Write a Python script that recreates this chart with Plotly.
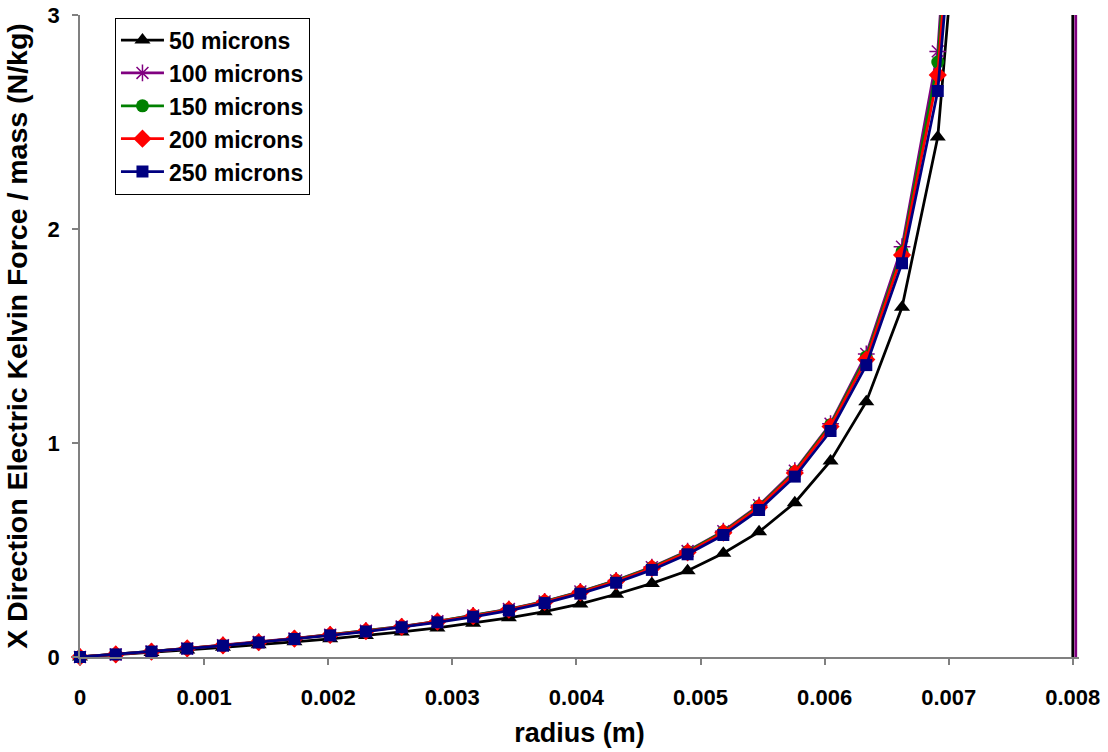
import plotly.graph_objects as go

# Radial positions (m) of the sampled cells
radius = [0.0, 0.000288, 0.000576, 0.000864, 0.001152, 0.00144, 0.001728, 0.002016,
          0.002304, 0.002592, 0.00288, 0.003168, 0.003456, 0.003744, 0.004032, 0.00432,
          0.004608, 0.004896, 0.005184, 0.005472, 0.00576, 0.006048, 0.006336, 0.006624,
          0.006912, 0.0072, 0.007488, 0.007776, 0.008064]

# Kelvin force per unit mass (N/kg) for each particle size
force_50 = [0.0, 0.010, 0.021, 0.033, 0.045, 0.057, 0.071, 0.085, 0.100, 0.117,
            0.136, 0.158, 0.183, 0.212, 0.248, 0.293, 0.344, 0.403, 0.485, 0.585,
            0.721, 0.916, 1.193, 1.634, 2.430, 4.4, 11.0, 3500.0, -1000.0]
force_100 = [0.0, 0.012, 0.026, 0.040, 0.055, 0.070, 0.087, 0.104, 0.123, 0.143,
             0.167, 0.194, 0.224, 0.260, 0.306, 0.358, 0.420, 0.495, 0.588, 0.709,
             0.871, 1.090, 1.416, 1.917, 2.830, 5.3, 13.0, 6200.0, -1000.0]
force_150 = [0.0, 0.012, 0.026, 0.040, 0.054, 0.070, 0.086, 0.104, 0.122, 0.142,
             0.166, 0.193, 0.223, 0.259, 0.305, 0.357, 0.418, 0.493, 0.585, 0.705,
             0.866, 1.085, 1.403, 1.894, 2.780, 5.1, 12.5, 40.0]
force_200 = [0.0, 0.012, 0.025, 0.040, 0.054, 0.069, 0.086, 0.103, 0.121, 0.141,
             0.165, 0.191, 0.221, 0.257, 0.302, 0.354, 0.415, 0.489, 0.581, 0.700,
             0.860, 1.077, 1.390, 1.878, 2.720, 4.9, 12.0, 38.0]
force_250 = [0.0, 0.012, 0.025, 0.039, 0.053, 0.068, 0.084, 0.101, 0.119, 0.139,
             0.162, 0.188, 0.217, 0.252, 0.296, 0.347, 0.407, 0.480, 0.570, 0.687,
             0.843, 1.056, 1.364, 1.840, 2.645, 4.6, 11.5, 36.0]

x_ticks = [0, 0.001, 0.002, 0.003, 0.004, 0.005, 0.006, 0.007, 0.008]
x_tick_text = ["0", "0.001", "0.002", "0.003", "0.004", "0.005", "0.006", "0.007", "0.008"]
y_ticks = [0, 1, 2, 3]

series = [
    ("50 microns", force_50, "#000000", dict(symbol="triangle-up", size=14)),
    ("100 microns", force_100, "#800080", dict(symbol="asterisk-open", size=14,
                                                line=dict(width=1.5, color="#993399"))),
    ("150 microns", force_150, "#008000", dict(symbol="circle", size=13)),
    ("200 microns", force_200, "#FF0000", dict(symbol="diamond", size=14)),
    ("250 microns", force_250, "#000080", dict(symbol="square", size=12)),
]

fig = go.Figure()
for name, values, color, marker in series:
    mk = dict(color=color, **marker)
    fig.add_trace(go.Scatter(
        x=radius[:len(values)], y=values, name=name, mode="lines+markers",
        line=dict(color=color, width=2.75), marker=mk, cliponaxis=False,
    ))

font_family = "Liberation Sans, Arial, sans-serif"
axis_common = dict(
    showgrid=False, zeroline=False, showline=True, linecolor="#808080", linewidth=1.5,
    ticks="outside", ticklen=6, tickcolor="#808080", tickwidth=1.5, automargin=False,
    tickfont=dict(family=font_family, size=22, color="black", weight="bold"),
)

fig.update_layout(
    width=1108, height=752,
    margin=dict(l=80, r=29, t=15, b=95),
    paper_bgcolor="white", plot_bgcolor="white",
    font=dict(family=font_family, color="black"),
    xaxis=dict(range=[0, 0.00805], tickvals=x_ticks, ticktext=x_tick_text,
               ticklabelstandoff=14,
               title=dict(text="radius (m)", standoff=14,
                          font=dict(family=font_family, size=27, weight="bold")),
               **axis_common),
    yaxis=dict(range=[0, 3], tickvals=y_ticks, ticklabelstandoff=8,
               title=dict(text="X Direction Electric Kelvin Force / mass (N/kg)", standoff=12,
                          font=dict(family=font_family, size=28.5, weight="bold")),
               **axis_common),
    legend=dict(x=0.035, y=0.996, xanchor="left", yanchor="top",
                bgcolor="white", bordercolor="black", borderwidth=1,
                font=dict(family=font_family, size=23, weight="bold"),
                itemwidth=43, tracegroupgap=0),
    showlegend=True,
)

fig.write_html("out.html")
